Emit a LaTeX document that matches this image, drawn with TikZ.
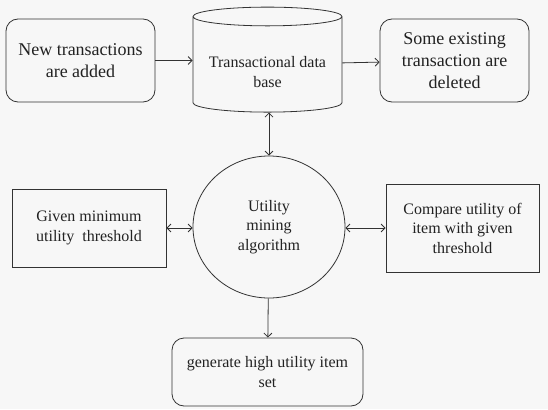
\documentclass[tikz,border=0pt]{standalone}
\usepackage{fontspec}
\setmainfont{Liberation Serif}
\usepackage{tikz}
\usetikzlibrary{arrows,arrows.meta,shapes.geometric,backgrounds}
\definecolor{linegray}{HTML}{333333}
\definecolor{textgray}{HTML}{222222}
\definecolor{paper}{HTML}{F7F7F7}

\begin{document}
\begin{tikzpicture}[x=1pt,y=-1pt,>={Straight Barb[length=4pt,width=8pt]},
  every node/.style={align=center,text=textgray,draw=linegray,line width=0.8pt},
  bigtext/.style={font=\fontsize{18}{22}\selectfont},
  smalltext/.style={font=\fontsize{16}{19.5}\selectfont},
  roundbox/.style={rectangle,rounded corners=12pt,inner sep=2pt},
  plainbox/.style={rectangle,inner sep=2pt},
  dbase/.style={cylinder,shape border rotate=90,aspect=0.16,inner sep=0pt},
  link/.style={draw=linegray,line width=0.8pt}]
\fill[paper] (0,0) rectangle (548,409);
\useasboundingbox (0,0) rectangle (548,409);
\node[roundbox,bigtext,minimum width=149pt,minimum height=83pt] (new) at (80.5,60.5) {New transactions\\are added};
\node[dbase,smalltext,minimum width=149pt,minimum height=105pt] (db) at (267.5,64.5) {\rule{0pt}{26pt}Transactional data\\base};
\node[roundbox,bigtext,minimum width=149pt,minimum height=83pt] (del) at (454.5,60.5) {Some existing\\transaction are\\deleted};
\node[ellipse,smalltext,minimum width=152pt,minimum height=142pt,inner sep=0pt] (algo) at (269,227) {Utility\\mining\\algorithm};
\node[plainbox,smalltext,minimum width=154pt,minimum height=78pt] (minth) at (89,228) {Given minimum\\utility\ \ threshold};
\node[plainbox,smalltext,minimum width=153pt,minimum height=88pt] (cmp) at (462.5,228) {Compare utility of\\item with given\\threshold};
\node[roundbox,smalltext,minimum width=191pt,minimum height=68pt] (gen) at (267.5,372) {generate high utility item\\set};
\draw[link,->] (new) -- (new -| db.west);
\draw[link,->] (db) -- (del);
\draw[link,<->] (db.south -| algo) -- (algo);
\draw[link,<->] (minth) -- (minth -| algo.west);
\draw[link,<->] (algo.east |- cmp) -- (cmp);
\draw[link,->] (algo) -- (gen);
\end{tikzpicture}
\end{document}
